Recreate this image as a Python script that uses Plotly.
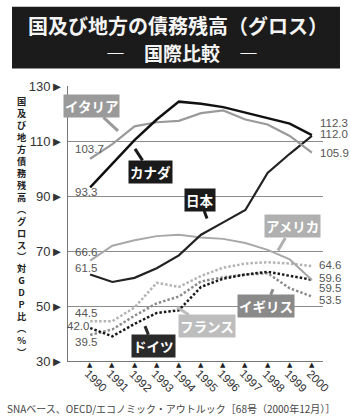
import plotly.graph_objects as go

# ---------------- data ----------------
years = [1990, 1991, 1992, 1993, 1994, 1995, 1996, 1997, 1998, 1999, 2000]
italy = [103.7, 109.0, 115.5, 117.0, 117.5, 120.3, 121.3, 118.0, 116.2, 112.0, 105.9]
canada = [93.3, 102.0, 110.5, 118.0, 124.5, 123.7, 122.5, 120.5, 118.4, 116.5, 112.3]
japan = [61.5, 58.8, 60.3, 63.8, 68.5, 76.0, 80.5, 85.0, 98.5, 105.5, 112.0]
usa = [66.6, 72.0, 74.0, 75.5, 76.0, 75.0, 74.5, 73.0, 70.5, 67.0, 59.5]
france = [44.5, 44.5, 49.5, 58.5, 57.0, 61.0, 64.0, 65.5, 66.0, 65.5, 64.6]
uk = [39.5, 41.5, 46.5, 51.0, 53.5, 59.0, 60.5, 61.5, 62.0, 56.5, 53.5]
germany = [42.0, 39.0, 43.5, 47.5, 48.5, 57.0, 60.0, 61.5, 62.5, 61.0, 59.6]

y_ticks = [30, 50, 70, 90, 110, 130]
y_ticktext = [f"{v}►" for v in y_ticks]
x_ticktext = [str(y) for y in years]

title1 = "国及び地方の債務残高（グロス）"
title2 = "―　国際比較　―"
axis_title = ["国", "及", "び", "地", "方", "債", "務", "残", "高", "︵", "グ", "ロ", "ス", "︶",
              "対", "G", "D", "P", "比", "︵", "%", "︶"]
source = "SNAベース、OECD/エコノミック・アウトルック［68号（2000年12月）］"

# ---------------- geometry helpers ----------------
W, H = 350, 417
L, R, T, B = 68, 27, 85.5, 56
X0, X1 = 1989.0, 2000.5
Y0, Y1 = 30, 130
PW, PH = W - L - R, H - T - B


def pxx(px):
    return (px - L) / PW


def pxy(py):
    return (H - B - py) / PH


def dx(px):
    return X0 + (px - L) / PW * (X1 - X0)


def dy(py):
    return Y1 - (py - T) / PH * (Y1 - Y0)


JP = "Noto Sans CJK JP"
NUM = "Liberation Sans"

fig = go.Figure()

series = [
    ("フランス", france, "#b3b3b3", 2.5, "2.5px,2px"),
    ("イギリス", uk, "#8c8c8c", 2.5, "2.5px,2px"),
    ("ドイツ", germany, "#1a1a1a", 2.5, "2.5px,2px"),
    ("アメリカ", usa, "#a8a8a8", 2, "solid"),
    ("日本", japan, "#222222", 2.2, "solid"),
    ("イタリア", italy, "#9a9a9a", 2.2, "solid"),
    ("カナダ", canada, "#111111", 2.5, "solid"),
]
for name, vals, col, w, dash in series:
    fig.add_trace(go.Scatter(x=years, y=vals, mode="lines", name=name,
                             line=dict(color=col, width=w, dash=dash),
                             hoverinfo="skip", showlegend=False))

ann = []

# x tick triangles and rotated year labels
for yr, lab in zip(years, x_ticktext):
    ann.append(dict(x=yr, xref="x", yref="paper", y=pxy(365.5), text="▲", showarrow=False,
                    xanchor="center", yanchor="middle",
                    font=dict(family="DejaVu Sans", size=7, color="#222")))
    ann.append(dict(x=yr, xref="x", yref="paper", y=pxy(381), xshift=6, text=lab,
                    textangle=45, showarrow=False, xanchor="center", yanchor="middle",
                    font=dict(family=NUM, size=11.5, color="#333")))

# value labels: (series, side, xshift, yshift)
val_labels = [
    (italy, 0, -17, 10), (canada, 0, -17, -4.5), (usa, 0, -17, 9), (japan, 0, -17, 7),
    (france, 0, -17, 8), (germany, 0, -25, 2), (uk, 0, -17, -7),
    (canada, -1, 6, 12), (japan, -1, 6, 2), (italy, -1, 6, 0),
    (france, -1, 5, 1), (germany, -1, 5, 2), (usa, -1, 5, -8), (uk, -1, 5, -3),
]
for vals, idx, xs, ys in val_labels:
    ann.append(dict(x=years[idx], y=vals[idx], text=f"{vals[idx]:.1f}", showarrow=False,
                    xanchor="left", yanchor="middle", xshift=xs, yshift=ys,
                    font=dict(family=NUM, size=11.5, color="#555")))

# series name boxes: (text, bg, box center px, tip px)
boxes = [
    ("イタリア", "#9a9a9a", (91, 105), (118, 130)),
    ("カナダ", "#1a1a1a", (150, 171), (135, 148)),
    ("日本", "#1a1a1a", (200, 199), (207, 218)),
    ("アメリカ", "#b0b0b0", (292, 226), (278, 250)),
    ("イギリス", "#8a8a8a", (266, 306), (273, 289)),
    ("フランス", "#bdbdbd", (207, 326), (177, 307)),
    ("ドイツ", "#2a2a2a", (153, 346), (145, 326)),
]
for text, bg, (cx, cy), (tx, ty) in boxes:
    ann.append(dict(x=dx(tx), y=dy(ty), ax=cx - tx, ay=cy - ty, text=f"<b>{text}</b>",
                    showarrow=True, arrowhead=0, arrowwidth=3, arrowcolor=bg,
                    bgcolor=bg, borderpad=1, font=dict(family=JP, size=13.5, color="white")))

# title
ann.append(dict(xref="paper", yref="paper", x=pxx(178), y=pxy(25), text=f"<b>{title1}</b>",
                showarrow=False, xanchor="center", yanchor="middle",
                font=dict(family=JP, size=20, color="#f4f4f4")))
ann.append(dict(xref="paper", yref="paper", x=pxx(182), y=pxy(52), text=f"<b>{title2}</b>",
                showarrow=False, xanchor="center", yanchor="middle",
                font=dict(family=JP, size=19, color="#f4f4f4")))

# vertical axis title (stacked characters)
ann.append(dict(xref="paper", yref="paper", x=pxx(22), y=pxy(226),
                text="<b>" + "<br>".join(axis_title) + "</b>",
                showarrow=False, xanchor="center", yanchor="middle", align="center",
                font=dict(family=JP, size=9.2, color="#222")))

# source
ann.append(dict(xref="paper", yref="paper", x=pxx(5), y=pxy(409), text=source,
                showarrow=False, xanchor="left", yanchor="middle",
                font=dict(family=JP, size=10, color="#444")))

shapes = [dict(type="rect", xref="paper", yref="paper", x0=pxx(12), x1=pxx(340),
               y0=pxy(68), y1=pxy(6), fillcolor="#1b1b1b", line=dict(width=0), layer="below")]

fig.update_layout(
    width=W, height=H, margin=dict(l=L, r=R, t=T, b=B),
    paper_bgcolor="white", plot_bgcolor="white",
    annotations=ann, shapes=shapes,
    xaxis=dict(range=[X0, X1], tickvals=years, showticklabels=False,
               ticks="", showgrid=False, zeroline=False,
               showline=True, linecolor="#777", linewidth=1),
    yaxis=dict(range=[Y0, Y1 + 0.2], tickvals=y_ticks, ticktext=y_ticktext, ticks="",
               ticklabelstandoff=1, showgrid=True, gridcolor="#8c8c8c", gridwidth=1,
               zeroline=False, showline=True, linecolor="#777", linewidth=1,
               tickfont=dict(family=NUM, size=13, color="#333")),
)

fig.write_html("out.html")
